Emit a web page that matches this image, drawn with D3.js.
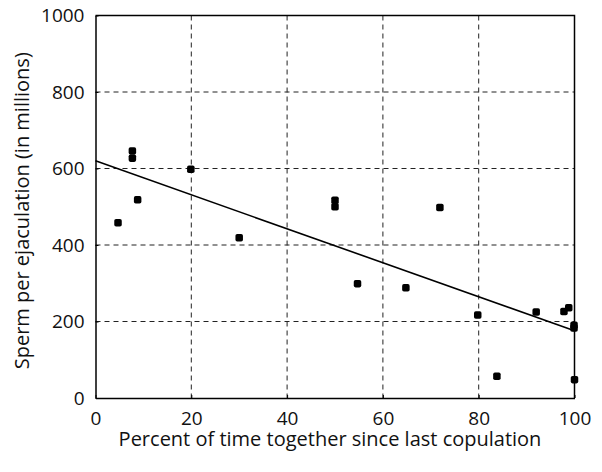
<!DOCTYPE html>
<html>
<head>
<meta charset="utf-8">
<script src="https://cdn.jsdelivr.net/npm/d3@7"></script>
<style>
  body { margin: 0; background: #fff; }
  text { font-family: "Open Sans", "Noto Sans", sans-serif; fill: #111; }
</style>
</head>
<body>
<div id="chart"></div>
<script>
// percent of time together since last copulation
let pctTogether = [4.7, 7.7, 7.7, 8.8, 19.9, 30, 50, 50, 54.7, 64.8, 71.9, 79.8, 83.8, 92, 97.8, 98.8, 99.9, 99.9, 100];
// sperm per ejaculation (millions)
let spermCount = [458, 646, 627, 518, 598, 419, 517, 500, 299, 288, 498, 217, 57, 225, 226, 236, 190, 183, 48];
// fitted line, value at x=0 and x=100
let fitX = [0, 100];
let fitY = [620, 176];
let xTicks = [0, 20, 40, 60, 80, 100];
let yTicks = [0, 200, 400, 600, 800, 1000];

let margin = { top: 15.5, right: 27.5, bottom: 74, left: 95.5 };
let width = 602, height = 472;
let w = width - margin.left - margin.right;
let h = height - margin.top - margin.bottom;

let svg = d3.select("#chart").append("svg")
    .attr("width", width)
    .attr("height", height);

let g = svg.append("g")
    .attr("transform", "translate(" + margin.left + "," + margin.top + ")");

let x = d3.scaleLinear().domain([0, 100]).range([0, w]);
let y = d3.scaleLinear().domain([0, 1000]).range([h, 0]);

// dashed grid
g.append("g").selectAll("line")
    .data(xTicks.slice(1, -1))
    .enter().append("line")
    .attr("x1", d => x(d)).attr("x2", d => x(d))
    .attr("y1", 0).attr("y2", h)
    .attr("stroke", "#222").attr("stroke-width", 1)
    .attr("stroke-dasharray", "5,4");

g.append("g").selectAll("line")
    .data(yTicks.slice(1, -1))
    .enter().append("line")
    .attr("y1", d => y(d)).attr("y2", d => y(d))
    .attr("x1", 0).attr("x2", w)
    .attr("stroke", "#222").attr("stroke-width", 1)
    .attr("stroke-dasharray", "5,4");

// axes
let xAxis = g.append("g")
    .attr("transform", "translate(0," + h + ")")
    .call(d3.axisBottom(x).tickValues(xTicks).tickFormat(d3.format("d"))
        .tickSizeInner(-3).tickSizeOuter(0).tickPadding(14));
let yAxis = g.append("g")
    .call(d3.axisLeft(y).tickValues(yTicks).tickFormat(d3.format("d"))
        .tickSizeInner(-3).tickSizeOuter(0).tickPadding(11));

[xAxis, yAxis].forEach(a => {
    a.select(".domain").attr("stroke", "#000").attr("stroke-width", 1.5);
    a.selectAll(".tick line").attr("stroke", "#000");
    a.selectAll(".tick text")
        .attr("font-size", 19)
        .attr("font-family", "Open Sans, Noto Sans, sans-serif")
        .attr("fill", "#111");
});

// top and right border
g.append("path")
    .attr("d", "M0,0H" + w + "V" + h)
    .attr("fill", "none")
    .attr("stroke", "#000")
    .attr("stroke-width", 1.5);

// regression line
let line = d3.line()
    .x(d => x(d[0]))
    .y(d => y(d[1]));

g.append("path")
    .datum(fitX.map((d, i) => [d, fitY[i]]))
    .attr("d", line)
    .attr("fill", "none")
    .attr("stroke", "#000")
    .attr("stroke-width", 1.6);

// points
let size = 7.5;
g.append("g").selectAll("rect")
    .data(pctTogether.map((d, i) => [d, spermCount[i]]))
    .enter().append("rect")
    .attr("x", d => x(d[0]) - size / 2)
    .attr("y", d => y(d[1]) - size / 2)
    .attr("width", size)
    .attr("height", size)
    .attr("rx", 1.8)
    .attr("fill", "#000");

// axis titles
svg.append("text")
    .attr("x", margin.left + w / 2 - 5)
    .attr("y", 446)
    .attr("text-anchor", "middle")
    .attr("font-size", 20)
    .text("Percent of time together since last copulation");

svg.append("text")
    .attr("transform", "translate(29," + (margin.top + h / 2 + 4) + ")rotate(-90)")
    .attr("text-anchor", "middle")
    .attr("font-size", 20)
    .text("Sperm per ejaculation (in millions)");
</script>
</body>
</html>
